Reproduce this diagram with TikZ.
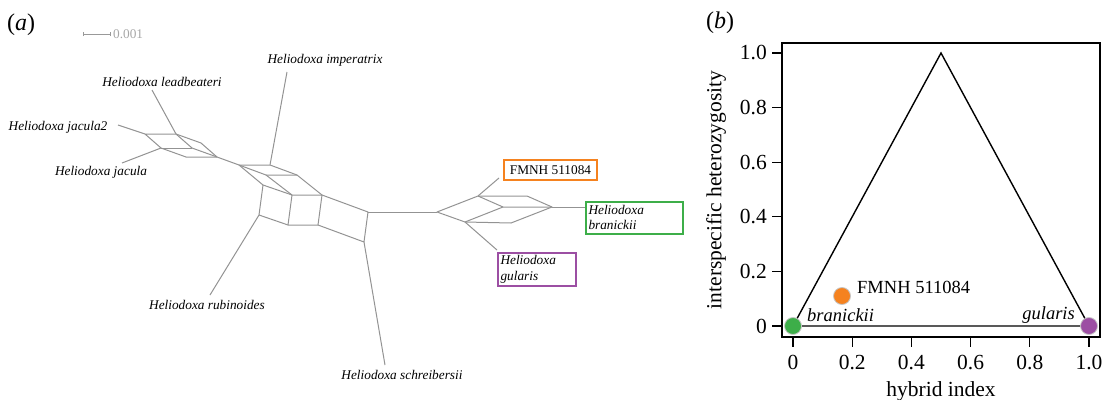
\documentclass[tikz,border=0pt]{standalone}
\usepackage{fontspec}
\setmainfont{Liberation Serif}
\definecolor{netgray}{HTML}{939393}
\definecolor{morange}{HTML}{F5821F}
\definecolor{mgreen}{HTML}{3DAE49}
\definecolor{mpurple}{HTML}{9C4FA3}
\begin{document}
\begin{tikzpicture}[x=1pt,y=-1pt,
  net/.style={draw=netgray, line width=1pt, line join=round},
  leaflab/.style={font=\fontsize{13.3}{15}\selectfont\itshape, inner sep=0pt},
  boxlab/.style={draw=#1, line width=2pt, inner xsep=3pt, inner ysep=2pt, font=\fontsize{13.3}{15.5}\selectfont, fill=white},
  panel/.style={font=\fontsize{24}{26}\selectfont, inner sep=0pt},
  ticklab/.style={font=\fontsize{21.5}{24}\selectfont, inner sep=0pt},
  ptlab/.style={font=\fontsize{18.5}{21}\selectfont, inner sep=0pt},
  dot/.style={circle, fill=#1, draw=gray!45, line width=0.8pt, minimum size=17pt, inner sep=0pt},
  frame/.style={draw=black, line width=1.8pt},
  tri/.style={draw=black, line width=1.4pt, line join=miter}
]
\useasboundingbox (0,0) rectangle (1102,399);

% ---------------- panel (a) ----------------
\node[panel, anchor=west] (pa) at (7,25) {(\textit{a})};
% scale bar
\coordinate (sb1) at (83,34);
\coordinate (sb2) at (110,34);
\draw[draw=gray!80, line width=0.7pt] (sb1) -- (sb2);
\draw[draw=gray!80, line width=0.7pt] ([yshift=-2]sb1) -- ([yshift=2]sb1);
\draw[draw=gray!80, line width=0.7pt] ([yshift=-2]sb2) -- ([yshift=2]sb2);
\node[font=\fontsize{13.3}{15}\selectfont, text=gray!70, inner sep=0pt, anchor=west] (sblab) at (113,34) {0.001};

% left cluster
\coordinate (A) at (145,134);
\coordinate (B) at (176,134);
\coordinate (F) at (201,143);
\coordinate (E) at (217,157);
\coordinate (D) at (186,157);
\coordinate (C) at (161,148);
\coordinate (X) at (192,148);
\draw[net] (A) -- (B) -- (F) -- (E) -- (D) -- (C) -- cycle;
\draw[net] (C) -- (X);
\draw[net] (B) -- (X);
\draw[net] (X) -- (E);

% middle cluster
\coordinate (G) at (239,165);
\coordinate (H) at (270,165);
\coordinate (I1) at (266,175);
\coordinate (P1) at (297,175);
\coordinate (Q) at (263,185);
\coordinate (R) at (292,195);
\coordinate (K) at (322,195);
\coordinate (L) at (259,215);
\coordinate (S) at (288,225);
\coordinate (T) at (318,225);
\coordinate (M) at (368,212);
\coordinate (N) at (364,242);
\draw[net] (E) -- (G);
\draw[net] (G) -- (H) -- (P1) -- (K) -- (T) -- (S) -- (L) -- (Q) -- cycle;
\draw[net] (G) -- (I1) -- (P1);
\draw[net] (I1) -- (R);
\draw[net] (Q) -- (R) -- (K);
\draw[net] (R) -- (S);
\draw[net] (K) -- (M) -- (N) -- (T);

% right cluster
\coordinate (U) at (437,212);
\coordinate (V) at (478,196);
\coordinate (W) at (465,222);
\coordinate (V2) at (527,196);
\coordinate (Z) at (552,207);
\coordinate (W2) at (511,223);
\coordinate (X1) at (503,207);
\draw[net] (M) -- (U);
\draw[net] (U) -- (V) -- (V2) -- (Z) -- (W2) -- (W) -- cycle;
\draw[net] (V) -- (X1) -- (Z);
\draw[net] (W) -- (X1);

% leaves
\node[leaflab] (lead) at (162,82) {Heliodoxa leadbeateri};
\coordinate (leadtip) at (152,90);
\draw[net] (B) -- (leadtip);
\node[leaflab] (jac2) at (58,127) {Heliodoxa jacula2};
\coordinate (jac2tip) at (118,125);
\draw[net] (A) -- (jac2tip);
\node[leaflab] (jac) at (101,172) {Heliodoxa jacula};
\coordinate (jactip) at (122,163);
\draw[net] (C) -- (jactip);
\node[leaflab] (imp) at (325,60) {Heliodoxa imperatrix};
\coordinate (imptip) at (287,72);
\draw[net] (H) -- (imptip);
\node[leaflab] (rub) at (207,305) {Heliodoxa rubinoides};
\coordinate (rubtip) at (210,295);
\draw[net] (L) -- (rubtip);
\node[leaflab] (sch) at (402,375) {Heliodoxa schreibersii};
\coordinate (schtip) at (385,365);
\draw[net] (N) -- (schtip);

\node[boxlab=morange, minimum width=93pt, minimum height=20pt] (fmnh) at (550.5,170) {FMNH 511084};
\coordinate (fmnhtip) at (499,178);
\draw[net] (V) -- (fmnhtip);
\node[boxlab=mgreen, text width=91pt, minimum height=32pt, align=left, font=\fontsize{13.3}{15.5}\selectfont\itshape] (bran) at (634,217.5) {Heliodoxa\\branickii};
\draw[net] (Z) -- (Z -| bran.west);
\node[boxlab=mpurple, text width=72pt, minimum height=33pt, align=left, font=\fontsize{13.3}{15.5}\selectfont\itshape] (gul) at (536.5,269.5) {Heliodoxa\\gularis};
\coordinate (gultip) at (497,250);
\draw[net] (W) -- (gultip);

% ---------------- panel (b) ----------------
\node[panel, anchor=west] (pb) at (706,23) {(\textit{b})};
\draw[frame] (782,43) rectangle (1100,337);
% y ticks
\foreach \v/\t in {0/0,0.2/0.2,0.4/0.4,0.6/0.6,0.8/0.8,1/1.0}{
  \draw[line width=1.2pt] (782,{326-273*\v}) -- (772,{326-273*\v});
  \node[ticklab, anchor=east] at (767,{326-273*\v}) {\t};
}
% x ticks
\foreach \v/\t in {0/0,0.2/0.2,0.4/0.4,0.6/0.6,0.8/0.8,1/1.0}{
  \draw[line width=1.2pt] ({793+296*\v},337) -- ({793+296*\v},347);
  \node[ticklab, anchor=north] at ({793+296*\v},355) {\t};
}
\node[ticklab] (xlab) at (941,391) {hybrid index};
\node[ticklab, rotate=90] (ylab) at (716,190) {interspecific heterozygosity};

\coordinate (t0) at (793,326);
\coordinate (t1) at (941,53);
\coordinate (t2) at (1089,326);
\draw[tri] (t0) -- (t1) -- (t2) -- cycle;

\node[dot=mgreen] (pbran) at (t0) {};
\node[dot=mpurple] (pgul) at (t2) {};
\node[dot=morange] (pfmnh) at (842,296) {};
\node[ptlab, anchor=west] (lfmnh) at (857,287) {FMNH 511084};
\node[ptlab, anchor=west, font=\fontsize{18.5}{21}\selectfont\itshape] (lbran) at (807,315) {branickii};
\node[ptlab, anchor=east, font=\fontsize{18.5}{21}\selectfont\itshape] (lgul) at (1075,315) {gularis};
\end{tikzpicture}
\end{document}
